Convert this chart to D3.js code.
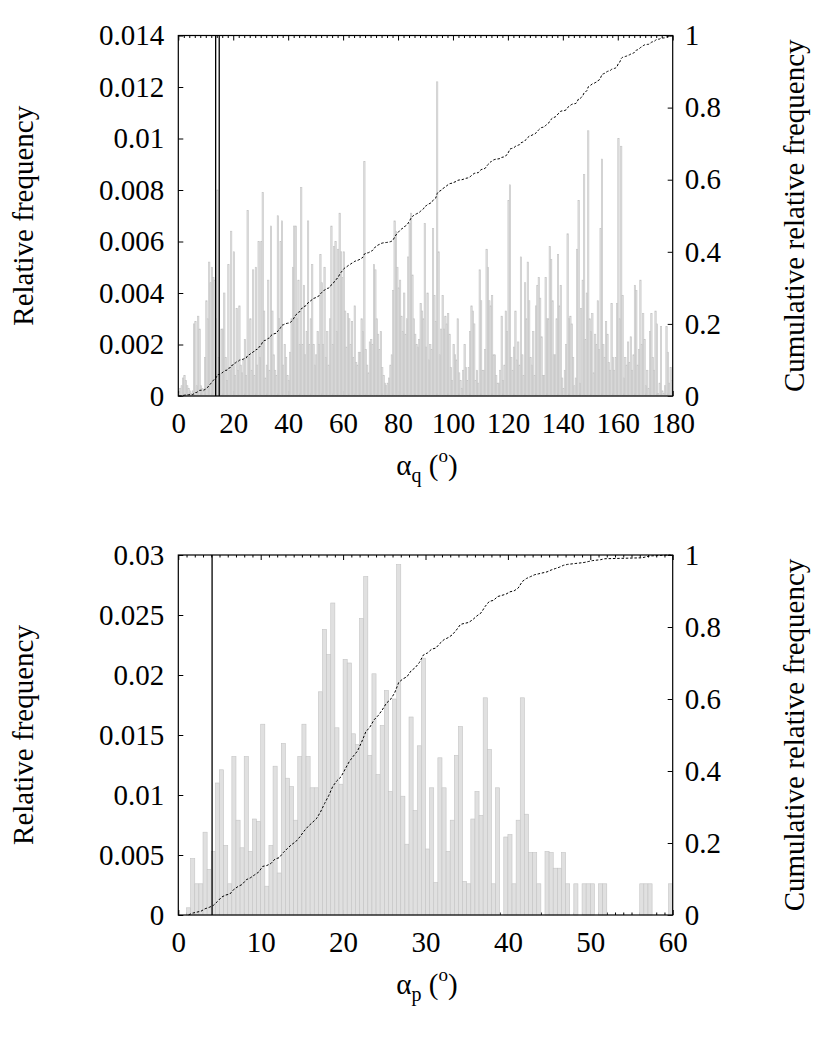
<!DOCTYPE html>
<html><head><meta charset="utf-8">
<script src="https://cdn.jsdelivr.net/npm/d3@7"></script>
<style>body{margin:0;background:#fff} svg{display:block}</style>
</head><body>
<script>
// ---- top panel: relative frequency of alpha_q, 0.5 degree bins (0..180) ----
const topFreq = [
 .0001,.0003,.0004,.0007,.0008,.0006,.0004,.0003,.0002,.0001, .0002,.0028,.0029,.0004,.0031,.0026,.0004,.0003,.0002,.0015,
 .0037,.0030,.0052,.0044,.0050,.0046,.0045,.0030,.0080,.0015, .0008,.0026,.0026,.0040,.0015,.0006,.0051,.0010,.0064,.0012,
 .0056,.0008,.0034,.0010,.0035,.0012,.0009,.0014,.0022,.0008, .0072,.0015,.0030,.0010,.0049,.0008,.0050,.0012,.0060,.0015,
 .0060,.0079,.0033,.0007,.0012,.0045,.0010,.0066,.0033,.0016, .0010,.0008,.0070,.0030,.0060,.0068,.0012,.0020,.0015,.0008,
 .0006,.0017,.0030,.0050,.0066,.0066,.0030,.0045,.0020,.0081, .0020,.0043,.0016,.0025,.0068,.0020,.0030,.0051,.0020,.0012,
 .0016,.0025,.0020,.0055,.0044,.0020,.0050,.0015,.0025,.0012, .0030,.0066,.0020,.0058,.0060,.0025,.0057,.0071,.0056,.0046,
 .0056,.0033,.0019,.0032,.0030,.0020,.0029,.0015,.0035,.0013, .0012,.0017,.0017,.0030,.0025,.0091,.0018,.0012,.0009,.0021,
 .0022,.0020,.0051,.0049,.0030,.0024,.0018,.0025,.0011,.0008, .0005,.0004,.0005,.0007,.0012,.0016,.0041,.0068,.0064,.0050,
 .0042,.0045,.0031,.0025,.0040,.0024,.0030,.0054,.0067,.0071, .0047,.0030,.0024,.0020,.0019,.0022,.0036,.0033,.0030,.0067,
 .0019,.0040,.0014,.0020,.0018,.0065,.0039,.0029,.0122,.0056, .0016,.0026,.0039,.0026,.0031,.0028,.0032,.0024,.0011,.0006,
 .0020,.0016,.0014,.0030,.0009,.0006,.0003,.0010,.0020,.0011, .0006,.0011,.0025,.0035,.0033,.0028,.0006,.0010,.0005,.0049,
 .0037,.0010,.0010,.0018,.0057,.0050,.0037,.0035,.0039,.0016, .0016,.0008,.0005,.0005,.0010,.0031,.0006,.0012,.0033,.0025,
 .0076,.0082,.0015,.0010,.0019,.0033,.0014,.0021,.0012,.0054, .0016,.0008,.0044,.0030,.0052,.0037,.0015,.0012,.0025,.0008,
 .0035,.0043,.0046,.0038,.0023,.0008,.0008,.0046,.0030,.0030, .0058,.0053,.0037,.0016,.0016,.0030,.0055,.0035,.0043,.0007,
 .0003,.0010,.0020,.0063,.0030,.0031,.0028,.0015,.0004,.0007, .0057,.0076,.0005,.0034,.0045,.0086,.0022,.0040,.0103,.0030,
 .0025,.0032,.0009,.0024,.0020,.0037,.0018,.0065,.0092,.0020, .0015,.0029,.0024,.0013,.0010,.0036,.0015,.0010,.0015,.0036,
 .0100,.0030,.0097,.0039,.0007,.0015,.0012,.0021,.0013,.0023, .0010,.0016,.0043,.0041,.0012,.0018,.0045,.0020,.0032,.0022,
 .0004,.0010,.0003,.0025,.0032,.0015,.0010,.0033,.0028,.0001, .0005,.0027,.0002,.0001,.0004,.0027,.0017,.0005,.0011,.0006
];
const topBinWidth = 0.5;
const topXTicks = [0,20,40,60,80,100,120,140,160,180];
const topXMinorStep = 2;
const topYTicks = [0,0.002,0.004,0.006,0.008,0.010,0.012,0.014];
const topMarkers = [13.6, 14.9];

// ---- bottom panel: relative frequency of alpha_p, 0.5 degree bins (0..60) ----
const bottomFreq = [
 0,0,.0006,.0047,.0026,.0026,.0069,.0038,.0053,.0110,
 .0121,.0058,.0026,.0132,.0079,.0056,.0132,.0053,.0080,.0078,
 .0159,.0024,.0058,.0124,.0035,.0143,.0114,.0107,.0079,.0132,
 .0159,.0132,.0106,.0106,.0186,.0238,.0217,.0260,.0156,.0109,
 .0213,.0210,.0151,.0142,.0247,.0282,.0133,.0201,.0117,.0158,
 .0187,.0103,.0180,.0292,.0099,.0059,.0165,.0087,.0141,.0214,
 .0055,.0106,.0027,.0131,.0106,.0053,.0079,.0133,.0157,.0028,
 .0026,.0080,.0103,.0083,.0181,.0138,.0026,.0106,0,.0065,
 .0067,.0026,.0079,.0181,.0084,.0052,.0052,.0026,0,.0053,
 .0052,.0039,.0039,.0052,.0026,0,.0026,0,.0026,.0026,
 .0026,0,.0026,.0026,0,0,0,0,0,0,
 0,0,.0026,.0026,.0026,0,0,0,0,.0026
];
const bottomBinWidth = 0.5;
const bottomXTicks = [0,10,20,30,40,50,60];
const bottomXMinorStep = 1;
const bottomYTicks = [0,0.005,0.010,0.015,0.020,0.025,0.030];
const bottomMarkers = [4.1];

const cumTicks = [0,0.2,0.4,0.6,0.8,1];

const FONT = "'Liberation Serif','Times New Roman',Times,serif";
const FS = 29;
const svg = d3.select("body").append("svg").attr("width",830).attr("height",1039);

const fmt = d => d === 0 ? "0" : String(+d.toFixed(4));

function styleAxis(sel){
  sel.select(".domain").remove();
  sel.selectAll(".tick line").attr("stroke","#000").attr("stroke-width",1);
  sel.selectAll("text").attr("fill","#000").style("font-family",FONT).style("font-size",FS+"px");
  sel.attr("font-family",null).attr("font-size",null);
}

function panel(c){
  const left = 178.3, right = 672.7;
  const xMax = c.freq.length * c.bw;
  const x = d3.scaleLinear().domain([0, xMax]).range([left, right]);
  const y = d3.scaleLinear().domain([0, c.yMax]).range([c.bottom, c.top]);
  const y2 = d3.scaleLinear().domain([0, 1]).range([c.bottom, c.top]);
  const g = svg.append("g");
  const minor = d3.range(0, xMax + 1e-9, c.minorStep).filter(v => !c.xTicks.includes(v));

  // axes (inward ticks, gnuplot style)
  g.append("g").attr("transform",`translate(0,${c.bottom})`)
    .call(d3.axisBottom(x).tickValues(c.xTicks).tickSize(-5).tickPadding(16).tickFormat(fmt)).call(styleAxis);
  g.append("g").attr("transform",`translate(0,${c.bottom})`)
    .call(d3.axisBottom(x).tickValues(minor).tickSize(-2.5).tickFormat("")).call(styleAxis);
  g.append("g").attr("transform",`translate(0,${c.top})`)
    .call(d3.axisTop(x).tickValues(c.xTicks).tickSize(-5).tickFormat("")).call(styleAxis);
  g.append("g").attr("transform",`translate(0,${c.top})`)
    .call(d3.axisTop(x).tickValues(minor).tickSize(-2.5).tickFormat("")).call(styleAxis);
  g.append("g").attr("transform",`translate(${left},0)`)
    .call(d3.axisLeft(y).tickValues(c.yTicks).tickSize(-5).tickPadding(14).tickFormat(fmt)).call(styleAxis);
  g.append("g").attr("transform",`translate(${right},0)`)
    .call(d3.axisRight(y2).tickValues(cumTicks).tickSize(-5).tickPadding(12).tickFormat(fmt)).call(styleAxis);

  // bars
  const bars = c.freq.map((v,i)=>({x0:i*c.bw, v})).filter(d=>d.v>0);
  g.append("g").selectAll("rect").data(bars).join("rect")
    .attr("x", d => x(d.x0)).attr("width", x(c.bw) - x(0))
    .attr("y", d => y(d.v)).attr("height", d => y(0) - y(d.v))
    .attr("fill","#e0e0e0").attr("stroke","#c4c4c4").attr("stroke-width",0.6);

  // frame
  g.append("rect").attr("x",left).attr("y",c.top).attr("width",right-left).attr("height",c.bottom-c.top)
    .attr("fill","none").attr("stroke","#000").attr("stroke-width",1.2);

  // marker lines
  g.selectAll("line.mk").data(c.markers).join("line")
    .attr("x1",d=>x(d)).attr("x2",d=>x(d)).attr("y1",c.bottom).attr("y2",c.top)
    .attr("stroke","#000").attr("stroke-width",1.3);

  // cumulative relative frequency (derived from the bars)
  const total = d3.sum(c.freq);
  const cs = d3.cumsum(c.freq);
  const pts = c.freq.map((v,i)=>({x:(i+0.5)*c.bw, c:cs[i]/total, v})).filter(d=>d.v>0);
  g.append("path").datum(pts)
    .attr("d", d3.line().x(d=>x(d.x)).y(d=>y2(d.c)))
    .attr("fill","none").attr("stroke","#000").attr("stroke-width",1)
    .attr("stroke-dasharray","2.5,1.8");

  // axis titles
  const xl = g.append("text").attr("x",427).attr("y",c.bottom+79).attr("text-anchor","middle")
    .style("font-family",FONT).style("font-size",FS+"px").attr("fill","#000");
  xl.append("tspan").text("α");
  xl.append("tspan").text(c.sub).attr("dy",7).style("font-size","20px");
  xl.append("tspan").text(" (").attr("dy",-7);
  xl.append("tspan").text("o").attr("dy",-13).style("font-size","19px");
  xl.append("tspan").text(")").attr("dy",13);

  const mid = (c.top + c.bottom)/2;
  g.append("text").attr("transform",`translate(33,${mid}) rotate(-90)`).attr("text-anchor","middle")
    .style("font-family",FONT).style("font-size",FS+"px").attr("fill","#000").text("Relative frequency");
  g.append("text").attr("transform",`translate(804,${mid}) rotate(-90)`).attr("text-anchor","middle")
    .style("font-family",FONT).style("font-size",FS+"px").attr("fill","#000").text("Cumulative relative frequency");
}

panel({freq:topFreq, bw:topBinWidth, xTicks:topXTicks, minorStep:topXMinorStep,
       yMax:0.014, yTicks:topYTicks, markers:topMarkers, top:35.5, bottom:396, sub:"q"});
panel({freq:bottomFreq, bw:bottomBinWidth, xTicks:bottomXTicks, minorStep:bottomXMinorStep,
       yMax:0.03, yTicks:bottomYTicks, markers:bottomMarkers, top:555, bottom:915, sub:"p"});
</script>
</body></html>
